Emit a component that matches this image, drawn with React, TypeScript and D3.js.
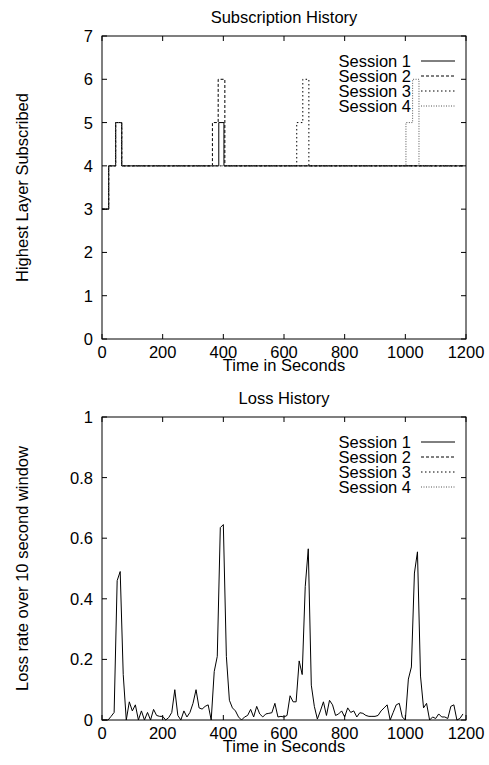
import * as d3 from "d3";

// subscription history: step points [time, layer] per session
const sessionNames = ["Session 1", "Session 2", "Session 3", "Session 4"];
const subTimes1 = [0, 22, 45, 65, 385, 402, 1190];
const subLayers1 = [3, 4, 5, 4, 5, 4, 4];
const subTimes2 = [0, 22, 45, 65, 364, 383, 405, 1190];
const subLayers2 = [3, 4, 5, 4, 5, 6, 4, 4];
const subTimes3 = [0, 22, 45, 65, 642, 662, 682, 1190];
const subLayers3 = [3, 4, 5, 4, 5, 6, 4, 4];
const subTimes4 = [0, 22, 45, 65, 1002, 1024, 1045, 1190];
const subLayers4 = [3, 4, 5, 4, 5, 6, 4, 4];

// loss history (session 1), 10 s windows
const lossTimes = [
  0, 10, 20, 30, 40, 50, 60, 70, 80, 90, 100, 110, 120, 130, 140, 150, 160, 170, 180, 190,
  200, 210, 220, 230, 240, 250, 260, 270, 280, 290, 300, 310, 320, 330, 340, 350, 360, 370, 380, 390,
  400, 410, 420, 430, 440, 450, 460, 470, 480, 490, 500, 510, 520, 530, 540, 550, 560, 570, 580, 590,
  600, 610, 620, 630, 640, 650, 660, 670, 680, 690, 700, 710, 720, 730, 740, 750, 760, 770, 780, 790,
  800, 810, 820, 830, 840, 850, 860, 870, 880, 890, 900, 910, 920, 930, 940, 950, 960, 970, 980, 990,
  1000, 1010, 1020, 1030, 1040, 1050, 1060, 1070, 1080, 1090, 1100, 1110, 1120, 1130, 1140, 1150, 1160, 1170, 1180, 1190,
];
const lossRates = [
  0, 0, 0, 0.012, 0.025, 0.46, 0.49, 0.15, 0, 0.06, 0.03, 0.05, 0, 0.03, 0, 0.025, 0, 0.035, 0.015, 0.012,
  0.012, 0, 0.008, 0.025, 0.1, 0.015, 0, 0.03, 0.01, 0.025, 0.055, 0.1, 0.04, 0.036, 0.045, 0.05, 0, 0.16, 0.21, 0.635,
  0.645, 0.21, 0.065, 0.04, 0.03, 0.01, 0, 0.01, 0.015, 0.035, 0.01, 0.045, 0.02, 0.01, 0.02, 0.022, 0.024, 0.055, 0.01, 0.012,
  0.01, 0.015, 0.08, 0.06, 0.06, 0.195, 0.15, 0.44, 0.565, 0.115, 0.045, 0.003, 0.03, 0.06, 0.015, 0.065, 0.05, 0.015, 0.02, 0.03,
  0.01, 0.04, 0.025, 0.03, 0.01, 0.024, 0.022, 0.015, 0.012, 0.012, 0.012, 0.015, 0.03, 0.04, 0.05, 0, 0.025, 0.05, 0.055, 0.01,
  0, 0.135, 0.175, 0.485, 0.555, 0.145, 0.04, 0.055, 0, 0.01, 0.005, 0.02, 0.01, 0.01, 0.005, 0.045, 0.05, 0, 0.005, 0.02,
];

const xTicks = [0, 200, 400, 600, 800, 1000, 1200];
const layerTicks = [0, 1, 2, 3, 4, 5, 6, 7];
const lossTicks = [0, 0.2, 0.4, 0.6, 0.8, 1];

const dashes = [null, "3,2", "1.5,2.5", "1,1.5"];
const strokes = ["#000", "#000", "#000", "#555"];
const FONT = "'Liberation Sans', Arial, sans-serif";
const TICK = 5;

type Pt = [number, number];

function Panel({
  top,
  title,
  yLabel,
  yDomain,
  yTicks,
  yFormat,
  series,
  curve,
}: {
  top: number;
  title: string;
  yLabel: string;
  yDomain: [number, number];
  yTicks: number[];
  yFormat: (d: number) => string;
  series: Pt[][];
  curve: d3.CurveFactory;
}) {
  const left = 102;
  const right = 466;
  const height = 303;
  const bottom = top + height;
  const x = d3.scaleLinear().domain([0, 1200]).range([left, right]);
  const y = d3.scaleLinear().domain(yDomain).range([bottom, top]);
  const line = d3
    .line<Pt>()
    .x((d) => x(d[0]))
    .y((d) => y(d[1]))
    .curve(curve);
  const legendX = 411;
  const legendY0 = top + 25;
  return (
    <g fontFamily={FONT} fontSize={16.5} fill="#000">
      <text x={(left + right) / 2} y={top - 13} textAnchor="middle">
        {title}
      </text>
      <text
        transform={`translate(28,${(top + bottom) / 2}) rotate(-90)`}
        textAnchor="middle"
      >
        {yLabel}
      </text>
      {/* series */}
      {series.map((s, i) =>
        s.length ? (
          <path
            key={i}
            d={line(s) || ""}
            fill="none"
            stroke={strokes[i]}
            strokeWidth={1}
            strokeDasharray={dashes[i] || undefined}
          />
        ) : null
      )}
      {/* frame */}
      <rect x={left} y={top} width={right - left} height={height} fill="none" stroke="#000" strokeWidth={1} />
      {xTicks.map((t) => (
        <g key={"x" + t}>
          <line x1={x(t)} x2={x(t)} y1={bottom} y2={bottom - TICK} stroke="#000" />
          <line x1={x(t)} x2={x(t)} y1={top} y2={top + TICK} stroke="#000" />
          <text x={x(t)} y={bottom + 19} textAnchor="middle">
            {t}
          </text>
        </g>
      ))}
      {yTicks.map((t) => (
        <g key={"y" + t}>
          <line x1={left} x2={left + TICK} y1={y(t)} y2={y(t)} stroke="#000" />
          <line x1={right} x2={right - TICK} y1={y(t)} y2={y(t)} stroke="#000" />
          <text x={left - 9} y={y(t) + 6} textAnchor="end">
            {yFormat(t)}
          </text>
        </g>
      ))}
      <text x={(left + right) / 2} y={bottom + 32} textAnchor="middle">
        Time in Seconds
      </text>
      {/* legend */}
      {sessionNames.map((name, i) => (
        <g key={name}>
          <text x={legendX} y={legendY0 + i * 15 + 6} textAnchor="end">
            {name}
          </text>
          <line
            x1={421}
            x2={455}
            y1={legendY0 + i * 15}
            y2={legendY0 + i * 15}
            stroke={strokes[i]}
            strokeDasharray={dashes[i] || undefined}
          />
        </g>
      ))}
    </g>
  );
}

function zipPts(a: number[], b: number[]): Pt[] {
  return a.map((t, i) => [t, b[i]] as Pt);
}

export default function App() {
  const subSeries = [
    zipPts(subTimes1, subLayers1),
    zipPts(subTimes2, subLayers2),
    zipPts(subTimes3, subLayers3),
    zipPts(subTimes4, subLayers4),
  ];
  const lossSeries = [zipPts(lossTimes, lossRates), [], [], []];
  return (
    <svg
      width={489}
      height={765}
      style={{ position: "absolute", left: 0, top: 0, background: "#fff" }}
    >
      <Panel
        top={36}
        title="Subscription History"
        yLabel="Highest Layer Subscribed"
        yDomain={[0, 7]}
        yTicks={layerTicks}
        yFormat={(d) => String(d)}
        series={subSeries}
        curve={d3.curveStepAfter}
      />
      <Panel
        top={417}
        title="Loss History"
        yLabel="Loss rate over 10 second window"
        yDomain={[0, 1]}
        yTicks={lossTicks}
        yFormat={(d) => d3.format("")(d)}
        series={lossSeries}
        curve={d3.curveLinear}
      />
    </svg>
  );
}
